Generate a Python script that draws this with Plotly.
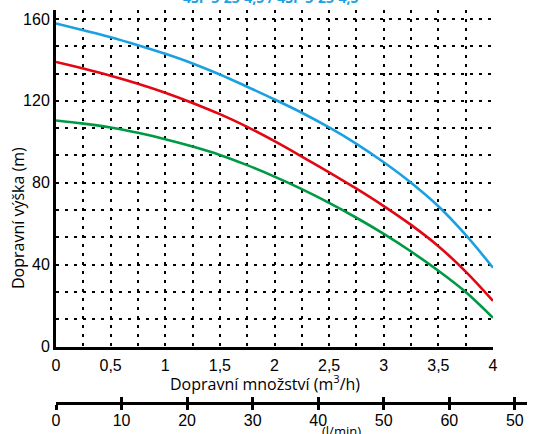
import plotly.graph_objects as go

# ---- data ----
flow_m3h = [i * 0.25 for i in range(17)]
head_blue = [157.8, 154.5, 151.1, 147.2, 143.0, 138.3, 132.9, 126.9, 120.7,
             114.2, 107.0, 99.0, 90.0, 80.0, 68.5, 54.5, 38.5]
head_red = [139.0, 135.8, 132.3, 128.4, 124.0, 119.0, 113.5, 107.3, 100.3,
            92.8, 85.1, 77.1, 68.6, 59.4, 49.0, 36.6, 22.3]
head_green = [110.4, 108.9, 107.0, 104.4, 101.3, 97.7, 93.6, 88.6, 83.0,
              76.9, 70.2, 62.9, 55.0, 46.4, 37.0, 26.6, 14.0]

x_grid_vals = [i * 0.25 for i in range(17)]
x_tick_text = ["0" if i == 0 else (("%g" % v).replace(".", ",") if i % 2 == 0 else "")
               for i, v in enumerate(x_grid_vals)]
y_grid_vals = [i * 160 / 12 for i in range(13)]
y_tick_text = [str(int(round(v))) if i % 3 == 0 else "" for i, v in enumerate(y_grid_vals)]

lmin_ticks = [0, 10, 20, 30, 40, 50, 60, 70]
lmin_labels = ["0", "10", "20", "30", "40", "50", "60", "50"]

title_text = "4SP 3-23-4,5 / 4SP 3-23-4,5"
x_title = "Dopravní množství (m<sup>3</sup>/h)"
y_title = "Dopravní výška (m)"
lmin_title = "(l/min)"

BLUE = "#1BA1E2"
RED = "#E30613"
GREEN = "#009A44"

W, H = 536, 434
ML, MR, MT, MB = 56, 8, 10, 0
PW = W - ML - MR
PH = H - MT - MB
x_max = 4.0
x_dom_end = (493 - ML) / PW
x2_dom_end = (527 - ML) / PW
y_dom_start = (H - 346.5) / PH
y_max = (346.5 - MT) / ((346.5 - 19) / 160)
x2_pos = (H - 402) / PH
# l/min axis shares the m3/h pixel scale (1 l/min = 0.06 m3/h)
x2_max = x_max * (x2_dom_end / x_dom_end) / 0.06

fig = go.Figure()
for ys, c in [(head_blue, BLUE), (head_red, RED), (head_green, GREEN)]:
    fig.add_trace(go.Scatter(x=flow_m3h, y=ys, mode="lines",
                             line=dict(color=c, width=2.6, shape="spline", smoothing=1.0),
                             hoverinfo="skip", showlegend=False, cliponaxis=False))
# dummy traces to create the l/min axes
fig.add_trace(go.Scatter(x=[0], y=[None], xaxis="x2", yaxis="y2", showlegend=False))
fig.add_trace(go.Scatter(x=[0], y=[None], xaxis="x3", yaxis="y3", showlegend=False))

tickfont = dict(family="Liberation Sans, Arial", size=16, color="black")
grid = dict(showgrid=True, gridcolor="black", gridwidth=1.5, griddash="3px,6px")

fig.update_layout(
    width=W, height=H,
    margin=dict(l=ML, r=MR, t=MT, b=MB, autoexpand=False),
    showlegend=False,
    paper_bgcolor="white", plot_bgcolor="white",
    xaxis=dict(domain=[0, x_dom_end], range=[0, x_max], tickmode="array",
               tickvals=x_grid_vals, ticktext=x_tick_text, tickfont=tickfont,
               showline=True, linecolor="black", linewidth=3, ticks="",
               ticklabelstandoff=2,
               zeroline=False, anchor="y", automargin=False, **grid),
    yaxis=dict(domain=[y_dom_start, 1], range=[0, y_max], tickmode="array",
               tickvals=y_grid_vals, ticktext=y_tick_text, tickfont=tickfont,
               showline=True, linecolor="black", linewidth=3, ticks="inside",
               ticklen=3, tickcolor="black", ticklabelstandoff=0,
               zeroline=False, anchor="x", automargin=False, **grid),
    xaxis2=dict(domain=[0, x2_dom_end], range=[0, x2_max], tickmode="array",
                tickvals=lmin_ticks, ticktext=lmin_labels, tickfont=tickfont,
                showline=True, linecolor="black", linewidth=3, ticks="outside",
                ticklen=5, tickwidth=2.5, tickcolor="black", showgrid=False,
                ticklabelstandoff=-3,
                zeroline=False, anchor="y2", automargin=False),
    yaxis2=dict(domain=[x2_pos, x2_pos + 0.02], visible=False, anchor="x2"),
    xaxis3=dict(domain=[0, x2_dom_end], range=[0, x2_max], tickmode="array",
                tickvals=lmin_ticks, showticklabels=False, showline=False,
                ticks="inside", ticklen=5, tickwidth=2.5, tickcolor="black",
                showgrid=False, zeroline=False, anchor="y3", automargin=False),
    yaxis3=dict(domain=[x2_pos, x2_pos + 0.02], visible=False, anchor="x3"),
    annotations=[
        dict(text=x_title, x=(265 - ML) / PW, y=(H - 383) / PH, xref="paper", yref="paper",
             xanchor="center", yanchor="middle", showarrow=False,
             font=dict(family="Open Sans", size=16, color="black")),
        dict(text=y_title, x=(18 - ML) / PW, y=(H - 218) / PH, xref="paper", yref="paper",
             xanchor="center", yanchor="middle", showarrow=False, textangle=-90,
             font=dict(family="Open Sans", size=16, color="black")),
        dict(text=lmin_title, x=(341 - ML) / PW, y=(H - 431) / PH, xref="paper", yref="paper",
             xanchor="center", yanchor="middle", showarrow=False,
             font=dict(family="Open Sans", size=13, color="black")),
        dict(text="<b>" + title_text + "</b>", x=(270 - ML) / PW, y=1 + 12 / PH,
             xref="paper", yref="paper", xanchor="center", yanchor="middle",
             showarrow=False, font=dict(family="Open Sans", size=14, color=BLUE)),
    ],
)

fig.write_html("out.html", config={"displayModeBar": False},
               post_script="document.body.style.margin='0';document.body.style.overflow='hidden';")
